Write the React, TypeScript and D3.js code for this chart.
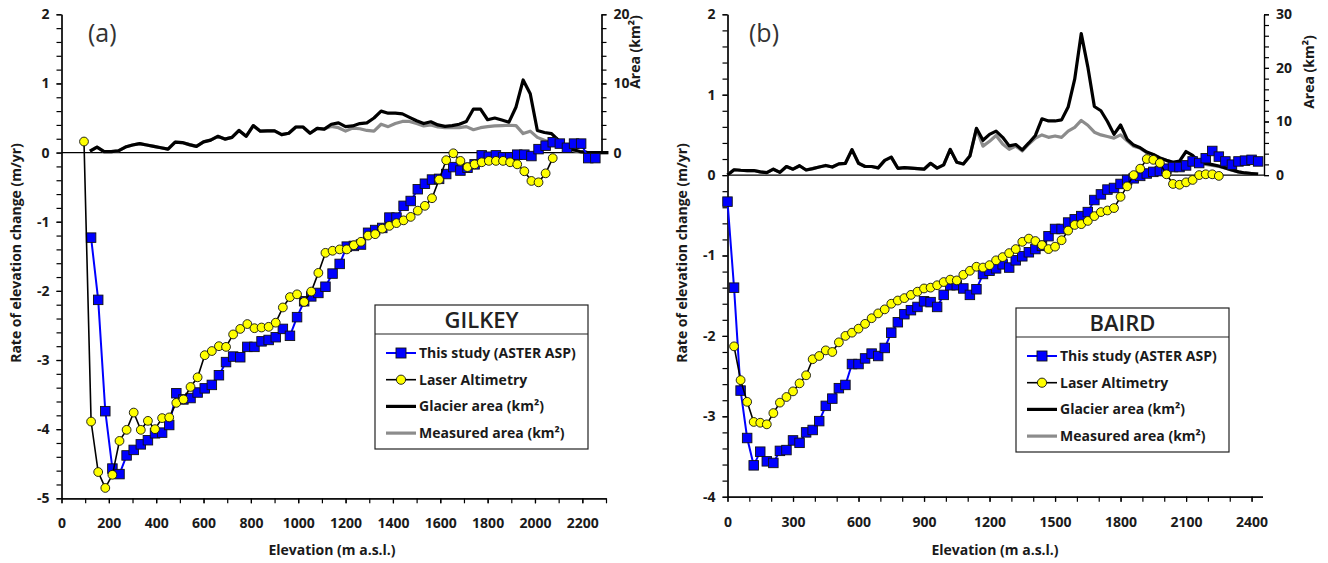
import { useRef, useEffect } from "react";
import * as d3 from "d3";

const FONT = "'Open Sans', Lato, 'DejaVu Sans', sans-serif";

// ---------- (a) Gilkey ----------
const gilkeyAsterElev = [
  125, 155, 185, 215, 245, 275, 305, 335, 365, 395,
  425, 455, 485, 515, 545, 575, 605, 635, 665, 695,
  725, 755, 785, 815, 845, 875, 905, 935, 965, 995,
  1025, 1055, 1085, 1115, 1145, 1175, 1205, 1235, 1265, 1295,
  1325, 1355, 1385, 1415, 1445, 1475, 1505, 1535, 1565, 1595,
  1625, 1655, 1685, 1715, 1745, 1775, 1805, 1835, 1865, 1895,
  1925, 1955, 1985, 2015, 2045, 2075, 2105, 2135, 2165, 2195,
  2225, 2255,
];
const gilkeyAsterRate = [
  -1.23, -2.13, -3.74, -4.57, -4.65, -4.38, -4.3, -4.22, -4.16, -4.06,
  -4.05, -3.94, -3.48, -3.57, -3.55, -3.47, -3.41, -3.36, -3.22, -3.03,
  -2.95, -2.96, -2.81, -2.81, -2.73, -2.71, -2.67, -2.55, -2.65, -2.38,
  -2.15, -2.08, -2.03, -1.94, -1.75, -1.61, -1.36, -1.35, -1.33, -1.16,
  -1.12, -1.09, -0.94, -0.94, -0.77, -0.7, -0.53, -0.45, -0.39, -0.38,
  -0.31, -0.21, -0.26, -0.22, -0.17, -0.04, -0.06, -0.04, -0.07, -0.07,
  -0.03, -0.03, -0.05, 0.05, 0.1, 0.15, 0.13, 0.07, 0.13, 0.13,
  -0.08, -0.08,
];
const gilkeyLaserElev = [
  95, 125, 155, 185, 215, 245, 275, 305, 335, 365,
  395, 425, 455, 485, 515, 545, 575, 605, 635, 665,
  695, 725, 755, 785, 815, 845, 875, 905, 935, 965,
  995, 1025, 1055, 1085, 1115, 1145, 1175, 1205, 1235, 1265,
  1295, 1325, 1355, 1385, 1415, 1445, 1475, 1505, 1535, 1565,
  1595, 1625, 1655, 1685, 1715, 1745, 1775, 1805, 1835, 1865,
  1895, 1925, 1955, 1985, 2015, 2045, 2075,
];
const gilkeyLaserRate = [
  0.16, -3.89, -4.62, -4.85, -4.66, -4.17, -4.01, -3.76, -4.01, -3.88,
  -4.0, -3.84, -3.83, -3.62, -3.57, -3.39, -3.25, -2.93, -2.87, -2.8,
  -2.81, -2.63, -2.55, -2.48, -2.54, -2.53, -2.52, -2.46, -2.24, -2.09,
  -2.05, -2.16, -2.01, -1.74, -1.45, -1.42, -1.4, -1.4, -1.34, -1.29,
  -1.2, -1.18, -1.1, -1.06, -1.02, -0.98, -0.93, -0.84, -0.77, -0.66,
  -0.39, -0.11, -0.01, -0.12, -0.21, -0.17, -0.14, -0.12, -0.12, -0.12,
  -0.14, -0.17, -0.27, -0.41, -0.43, -0.3, -0.08,
];
const gilkeyAreaElev = [
  120, 150, 180, 210, 240, 270, 300, 330, 360, 390,
  420, 450, 480, 510, 540, 570, 600, 630, 660, 690,
  720, 750, 780, 810, 840, 870, 900, 930, 960, 990,
  1020, 1050, 1080, 1110, 1140, 1170, 1200, 1230, 1260, 1290,
  1320, 1350, 1380, 1410, 1440, 1470, 1500, 1530, 1560, 1590,
  1620, 1650, 1680, 1710, 1740, 1770, 1800, 1830, 1860, 1890,
  1920, 1950, 1980, 2010, 2040, 2070, 2100, 2130, 2160, 2190,
  2220, 2250, 2280, 2310,
];
const gilkeyGlacierArea = [
  0.2, 0.8, 0.15, 0.15, 0.25, 0.8, 1.1, 1.3, 1.1, 0.9,
  0.7, 0.5, 1.5, 1.45, 1.15, 0.9, 1.55, 1.8, 2.35, 1.95,
  2.2, 3.2, 2.35, 3.9, 3.1, 3.15, 3.15, 2.6, 2.8, 3.7,
  3.7, 2.8, 3.5, 3.4, 4.1, 4.3, 3.75, 3.85, 4.2, 4.3,
  5.0, 6.0, 5.7, 5.7, 5.6, 5.1, 4.6, 4.2, 4.45, 4.0,
  3.8, 3.9, 4.1, 4.5, 6.3, 6.3, 4.75, 5.0, 4.7, 4.4,
  6.6, 10.5, 8.5, 3.2, 2.9, 2.75, 1.75, 1.0, 0.45, 0.15,
  0.02, 0, 0, 0,
];
const gilkeyMeasuredArea = [
  0.2, 0.8, 0.15, 0.15, 0.25, 0.8, 1.1, 1.3, 1.1, 0.9,
  0.7, 0.5, 1.5, 1.45, 1.15, 0.9, 1.55, 1.8, 2.35, 1.95,
  2.2, 3.2, 2.35, 3.9, 3.1, 3.15, 3.15, 2.6, 2.8, 3.7,
  3.7, 2.8, 3.5, 3.4, 3.8, 3.6, 3.1, 3.55, 3.45, 3.2,
  3.1, 4.1, 3.75, 4.2, 4.5, 4.5, 4.2, 3.85, 4.0, 3.7,
  3.6, 3.65, 3.6, 3.75, 3.3, 3.6, 3.75, 3.85, 3.9, 3.95,
  3.9, 2.75, 3.1, 2.2, 1.8, 1.4, 1.1, 0.7, 0.3, 0.1,
  0.02, 0, 0, 0,
];
const gilkeyElevTicks = [0, 200, 400, 600, 800, 1000, 1200, 1400, 1600, 1800, 2000, 2200];
const gilkeyRateTicks = [-5, -4, -3, -2, -1, 0, 1, 2];
const gilkeyAreaTicks = [0, 10, 20];

// ---------- (b) Baird ----------
const bairdAsterElev = [
  0, 30, 60, 90, 120, 150, 180, 210, 240, 270,
  300, 330, 360, 390, 420, 450, 480, 510, 540, 570,
  600, 630, 660, 690, 720, 750, 780, 810, 840, 870,
  900, 930, 960, 990, 1020, 1050, 1080, 1110, 1140, 1170,
  1200, 1230, 1260, 1290, 1320, 1350, 1380, 1410, 1440, 1470,
  1500, 1530, 1560, 1590, 1620, 1650, 1680, 1710, 1740, 1770,
  1800, 1830, 1860, 1890, 1920, 1950, 1980, 2010, 2040, 2070,
  2100, 2130, 2160, 2190, 2220, 2250, 2280, 2310, 2340, 2370,
  2400, 2430,
];
const bairdAsterRate = [
  -0.33, -1.4, -2.68, -3.27, -3.61, -3.44, -3.56, -3.58, -3.43, -3.42,
  -3.3, -3.33, -3.2, -3.17, -3.06, -2.87, -2.78, -2.65, -2.61, -2.35,
  -2.35, -2.28, -2.22, -2.25, -2.15, -1.96, -1.83, -1.73, -1.68, -1.64,
  -1.57, -1.58, -1.64, -1.49, -1.37, -1.37, -1.41, -1.49, -1.42, -1.23,
  -1.19, -1.16, -1.11, -1.15, -1.06, -1.01, -0.96, -0.92, -0.88, -0.76,
  -0.67, -0.67, -0.59, -0.55, -0.51, -0.46, -0.31, -0.24, -0.18, -0.16,
  -0.11, -0.06, -0.04, -0.01, 0.02, 0.04, 0.05, 0.08, 0.1, 0.1,
  0.12, 0.17, 0.15, 0.21, 0.3, 0.23, 0.17, 0.13, 0.17, 0.18,
  0.19, 0.17,
];
const bairdLaserElev = [
  30, 60, 90, 120, 150, 180, 210, 240, 270, 300,
  330, 360, 390, 420, 450, 480, 510, 540, 570, 600,
  630, 660, 690, 720, 750, 780, 810, 840, 870, 900,
  930, 960, 990, 1020, 1050, 1080, 1110, 1140, 1170, 1200,
  1230, 1260, 1290, 1320, 1350, 1380, 1410, 1440, 1470, 1500,
  1530, 1560, 1590, 1620, 1650, 1680, 1710, 1740, 1770, 1800,
  1830, 1860, 1890, 1920, 1950, 1980, 2010, 2040, 2070, 2100,
  2130, 2160, 2190, 2220, 2250,
];
const bairdLaserRate = [
  -2.13, -2.55, -2.82, -3.07, -3.08, -3.1, -2.96, -2.83, -2.76, -2.69,
  -2.59, -2.49, -2.29, -2.25, -2.18, -2.2, -2.08, -2.0, -1.96, -1.91,
  -1.85, -1.78, -1.72, -1.67, -1.6, -1.56, -1.53, -1.49, -1.45, -1.41,
  -1.4, -1.37, -1.33, -1.3, -1.31, -1.24, -1.19, -1.14, -1.15, -1.12,
  -1.06, -1.02, -0.97, -0.92, -0.83, -0.79, -0.82, -0.87, -0.92, -0.89,
  -0.81, -0.69, -0.62, -0.61, -0.57, -0.51, -0.46, -0.44, -0.41, -0.27,
  -0.14, 0.0, 0.08, 0.2, 0.19, 0.15, 0.01, -0.11, -0.12, -0.09,
  -0.06, 0.0, 0.01, 0.01, -0.01,
];
const bairdAreaElev = bairdAsterElev;
const bairdGlacierArea = [
  0, 1.0, 0.9, 0.85, 0.85, 0.6, 0.45, 1.1, 0.5, 1.6,
  1.1, 1.75, 0.95, 1.2, 1.5, 1.8, 1.5, 2.1, 2.2, 4.75,
  2.2, 1.6, 1.6, 1.35, 2.75, 3.35, 1.27, 1.4, 1.3, 1.2,
  1.1, 2.2, 1.3, 1.9, 4.8, 2.4, 2.07, 3.56, 8.73, 6.5,
  7.6, 8.2, 7.05, 5.45, 5.7, 4.7, 6.0, 7.4, 10.5, 10.1,
  10.1, 10.3, 12.7, 17.9, 26.4, 20.2, 12.8, 12.0, 10.0, 7.6,
  9.35, 6.7, 5.6, 5.1, 4.3, 3.85, 3.2, 2.75, 2.4, 2.6,
  4.4, 3.7, 2.4, 2.2, 1.95, 1.7, 1.35, 0.95, 0.6, 0.4,
  0.3, 0.2,
];
const bairdMeasuredArea = [
  0, 1.0, 0.9, 0.85, 0.85, 0.6, 0.45, 1.1, 0.5, 1.6,
  1.1, 1.75, 0.95, 1.2, 1.5, 1.8, 1.5, 2.1, 2.2, 4.75,
  2.2, 1.6, 1.6, 1.35, 2.75, 3.35, 1.27, 1.4, 1.3, 1.2,
  1.1, 2.2, 1.3, 1.9, 4.8, 2.4, 2.07, 3.56, 8.6, 5.4,
  6.3, 7.4, 5.8, 4.8, 5.4, 4.5, 5.8, 6.9, 7.5, 7.05,
  7.3, 7.05, 8.2, 8.9, 10.2, 9.3, 8.0, 7.5, 7.2, 6.9,
  7.5, 6.4, 5.4, 5.0, 4.2, 3.8, 3.2, 2.75, 2.4, 2.5,
  2.5, 2.3, 2.2, 2.0, 1.8, 1.6, 1.3, 0.9, 0.6, 0.4,
  0.3, 0.2,
];
const bairdElevTicks = [0, 300, 600, 900, 1200, 1500, 1800, 2100, 2400];
const bairdRateTicks = [-4, -3, -2, -1, 0, 1, 2];
const bairdAreaTicks = [0, 10, 20, 30];

const legendLabels = [
  "This study (ASTER ASP)",
  "Laser Altimetry",
  "Glacier area (km²)",
  "Measured area (km²)",
];

type Pt = [number, number];

type PanelCfg = {
  tag: string;
  name: string;
  aster: Pt[];
  laser: Pt[];
  glacier: Pt[];
  measured: Pt[];
  elevTicks: number[];
  rateTicks: number[];
  areaTicks: number[];
  elevMax: number;
  areaMax: number;
  xPx: [number, number];
  yPx: [number, number];
  rightX: number;
  legendPos: [number, number];
  tagPos: [number, number];
  yTitlePos: [number, number];
  xTitlePos: [number, number];
  areaTitlePos: [number, number];
};

const zip = (a: number[], b: number[]): Pt[] => a.map((v, i) => [v, b[i]]);

const panels: PanelCfg[] = [
  {
    tag: "(a)",
    name: "GILKEY",
    aster: zip(gilkeyAsterElev, gilkeyAsterRate),
    laser: zip(gilkeyLaserElev, gilkeyLaserRate),
    glacier: zip(gilkeyAreaElev, gilkeyGlacierArea),
    measured: zip(gilkeyAreaElev, gilkeyMeasuredArea),
    elevTicks: gilkeyElevTicks,
    rateTicks: gilkeyRateTicks,
    areaTicks: gilkeyAreaTicks,
    elevMax: 2300,
    areaMax: 20,
    xPx: [61.5, 606],
    yPx: [498.3, 14.3],
    rightX: 601.5,
    legendPos: [375, 305],
    tagPos: [88, 42],
    yTitlePos: [21, 253],
    xTitlePos: [332, 555],
    areaTitlePos: [640, 52],
  },
  {
    tag: "(b)",
    name: "BAIRD",
    aster: zip(bairdAsterElev, bairdAsterRate),
    laser: zip(bairdLaserElev, bairdLaserRate),
    glacier: zip(bairdAreaElev, bairdGlacierArea),
    measured: zip(bairdAreaElev, bairdMeasuredArea),
    elevTicks: bairdElevTicks,
    rateTicks: bairdRateTicks,
    areaTicks: bairdAreaTicks,
    elevMax: 2450,
    areaMax: 30,
    xPx: [727.5, 1262.5],
    yPx: [496.7, 14.3],
    rightX: 1264,
    legendPos: [1016, 308],
    tagPos: [749, 42],
    yTitlePos: [687, 253],
    xTitlePos: [995, 555],
    areaTitlePos: [1314, 72],
  },
];

const BLUE = "#0000ff";
const YELLOW = "#ffff00";
const GRAY = "#8c8c8c";
const INK = "#1a1a1a";

const Panel = ({ cfg }: { cfg: PanelCfg }) => {
  const gRef = useRef<SVGGElement>(null);

  useEffect(() => {
    if (!gRef.current) {
      return;
    }
    const g = d3.select(gRef.current);
    g.selectAll("*").remove();

    const rateMin = cfg.rateTicks[0];
    const rateMax = cfg.rateTicks[cfg.rateTicks.length - 1];
    const x = d3.scaleLinear().domain([0, cfg.elevMax]).range(cfg.xPx);
    const y = d3.scaleLinear().domain([rateMin, rateMax]).range(cfg.yPx);
    const ya = d3
      .scaleLinear()
      .domain([0, cfg.areaMax])
      .range([y(0), y(rateMax)]);

    const styleAxis = (sel: d3.Selection<SVGGElement, unknown, null, undefined>) => {
      sel.attr("font-family", FONT).attr("font-size", 14).attr("font-weight", "bold");
      sel.select(".domain").attr("stroke", "#000").attr("stroke-width", 1.2);
      sel.selectAll(".tick line").attr("stroke", "#000").attr("stroke-width", 1.2);
      sel.selectAll(".tick text").attr("fill", INK);
    };

    // left axis
    const minorRate = d3.range(rateMin, rateMax + 0.001, 0.2);
    g.append("g")
      .attr("transform", `translate(${x(0)},0)`)
      .call(d3.axisLeft(y).tickValues(minorRate).tickSize(5).tickSizeOuter(0).tickFormat(() => ""))
      .call(styleAxis);
    g.append("g")
      .attr("transform", `translate(${x(0)},0)`)
      .call(
        d3
          .axisLeft(y)
          .tickValues(cfg.rateTicks)
          .tickSize(5)
          .tickSizeOuter(0)
          .tickPadding(7)
          .tickFormat((d) => String(d))
      )
      .call(styleAxis);

    // bottom axis
    const minorElev = d3.range(0, cfg.elevMax + 1, 100);
    g.append("g")
      .attr("transform", `translate(0,${y(rateMin)})`)
      .call(d3.axisBottom(x).tickValues(minorElev).tickSize(5).tickSizeOuter(0).tickFormat(() => ""))
      .call(styleAxis);
    g.append("g")
      .attr("transform", `translate(0,${y(rateMin)})`)
      .call(
        d3
          .axisBottom(x)
          .tickValues(cfg.elevTicks)
          .tickSize(5)
          .tickSizeOuter(0)
          .tickPadding(15)
          .tickFormat((d) => String(d))
      )
      .call(styleAxis);

    // right (area) axis
    const minorArea = d3.range(0, cfg.areaMax + 0.001, 2);
    g.append("g")
      .attr("transform", `translate(${cfg.rightX},0)`)
      .call(d3.axisRight(ya).tickValues(minorArea).tickSize(5).tickSizeOuter(0).tickFormat(() => ""))
      .call(styleAxis);
    g.append("g")
      .attr("transform", `translate(${cfg.rightX},0)`)
      .call(
        d3
          .axisRight(ya)
          .tickValues(cfg.areaTicks)
          .tickSize(5)
          .tickSizeOuter(0)
          .tickPadding(7)
          .tickFormat((d) => String(d))
      )
      .call(styleAxis);

    // zero line
    g.append("line")
      .attr("x1", x(0))
      .attr("x2", cfg.rightX)
      .attr("y1", y(0))
      .attr("y2", y(0))
      .attr("stroke", "#000")
      .attr("stroke-width", 1.2);

    const areaLine = d3
      .line<Pt>()
      .x((d) => x(d[0]))
      .y((d) => ya(d[1]));
    const rateLine = d3
      .line<Pt>()
      .x((d) => x(d[0]))
      .y((d) => y(d[1]));

    g.append("path")
      .attr("d", areaLine(cfg.measured))
      .attr("fill", "none")
      .attr("stroke", GRAY)
      .attr("stroke-width", 3.2)
      .attr("stroke-linejoin", "round");
    g.append("path")
      .attr("d", areaLine(cfg.glacier))
      .attr("fill", "none")
      .attr("stroke", "#000")
      .attr("stroke-width", 3.2)
      .attr("stroke-linejoin", "round");

    // ASTER series
    g.append("path")
      .attr("d", rateLine(cfg.aster))
      .attr("fill", "none")
      .attr("stroke", BLUE)
      .attr("stroke-width", 2);
    const sq = 9.5;
    g.append("g")
      .selectAll("rect")
      .data(cfg.aster)
      .join("rect")
      .attr("x", (d) => x(d[0]) - sq / 2)
      .attr("y", (d) => y(d[1]) - sq / 2)
      .attr("width", sq)
      .attr("height", sq)
      .attr("fill", BLUE)
      .attr("stroke", "#111")
      .attr("stroke-width", 0.9);

    // laser series
    g.append("path")
      .attr("d", rateLine(cfg.laser))
      .attr("fill", "none")
      .attr("stroke", "#000")
      .attr("stroke-width", 1.6);
    g.append("g")
      .selectAll("circle")
      .data(cfg.laser)
      .join("circle")
      .attr("cx", (d) => x(d[0]))
      .attr("cy", (d) => y(d[1]))
      .attr("r", 4.4)
      .attr("fill", YELLOW)
      .attr("stroke", "#111")
      .attr("stroke-width", 0.9);

    // legend
    const [lx, ly] = cfg.legendPos;
    const lw = 213;
    const lh = 144;
    const lg = g.append("g").attr("transform", `translate(${lx},${ly})`);
    lg.append("rect")
      .attr("width", lw)
      .attr("height", lh)
      .attr("fill", "#fff")
      .attr("stroke", "#222")
      .attr("stroke-width", 1.2);
    lg.append("line")
      .attr("x1", 0)
      .attr("x2", lw)
      .attr("y1", 29)
      .attr("y2", 29)
      .attr("stroke", "#222")
      .attr("stroke-width", 1.2);
    lg.append("text")
      .attr("x", lw / 2)
      .attr("y", 23)
      .attr("text-anchor", "middle")
      .attr("font-family", FONT)
      .attr("font-size", 22)
      .attr("font-weight", 600)
      .attr("fill", "#222")
      .text(cfg.name);

    legendLabels.forEach((label, i) => {
      const cy = 48 + i * 26.7;
      const item = lg.append("g").attr("transform", `translate(0,${cy})`);
      const stroke = i === 0 ? BLUE : i === 3 ? GRAY : "#000";
      const sw = i === 0 ? 2 : i === 1 ? 1.6 : 3.2;
      item
        .append("line")
        .attr("x1", 11)
        .attr("x2", 41)
        .attr("stroke", stroke)
        .attr("stroke-width", sw);
      if (i === 0) {
        item
          .append("rect")
          .attr("x", 26 - 5)
          .attr("y", -5)
          .attr("width", 10)
          .attr("height", 10)
          .attr("fill", BLUE)
          .attr("stroke", "#111")
          .attr("stroke-width", 0.9);
      } else if (i === 1) {
        item
          .append("circle")
          .attr("cx", 26)
          .attr("r", 4.6)
          .attr("fill", YELLOW)
          .attr("stroke", "#111")
          .attr("stroke-width", 0.9);
      }
      item
        .append("text")
        .attr("x", 44)
        .attr("y", 5)
        .attr("font-family", FONT)
        .attr("font-size", 14)
        .attr("font-weight", "bold")
        .attr("fill", INK)
        .text(label);
    });

    // titles
    g.append("text")
      .attr("x", cfg.tagPos[0])
      .attr("y", cfg.tagPos[1])
      .attr("font-family", FONT)
      .attr("font-size", 25)
      .attr("fill", "#333")
      .text(cfg.tag);
    g.append("text")
      .attr("transform", `translate(${cfg.yTitlePos[0]},${cfg.yTitlePos[1]}) rotate(-90)`)
      .attr("text-anchor", "middle")
      .attr("font-family", FONT)
      .attr("font-size", 14)
      .attr("font-weight", "bold")
      .attr("fill", INK)
      .text("Rate of elevation change (m/yr)");
    g.append("text")
      .attr("x", cfg.xTitlePos[0])
      .attr("y", cfg.xTitlePos[1])
      .attr("text-anchor", "middle")
      .attr("font-family", FONT)
      .attr("font-size", 14)
      .attr("font-weight", "bold")
      .attr("fill", INK)
      .text("Elevation (m a.s.l.)");
    g.append("text")
      .attr("transform", `translate(${cfg.areaTitlePos[0]},${cfg.areaTitlePos[1]}) rotate(-90)`)
      .attr("text-anchor", "middle")
      .attr("font-family", FONT)
      .attr("font-size", 14)
      .attr("font-weight", "bold")
      .attr("fill", INK)
      .text("Area (km²)");
  }, [cfg]);

  return <g ref={gRef} />;
};

export default function App() {
  return (
    <svg
      width={1328}
      height={563}
      style={{ position: "absolute", left: 0, top: 0, background: "#fff" }}
    >
      {panels.map((p) => (
        <Panel key={p.tag} cfg={p} />
      ))}
    </svg>
  );
}
